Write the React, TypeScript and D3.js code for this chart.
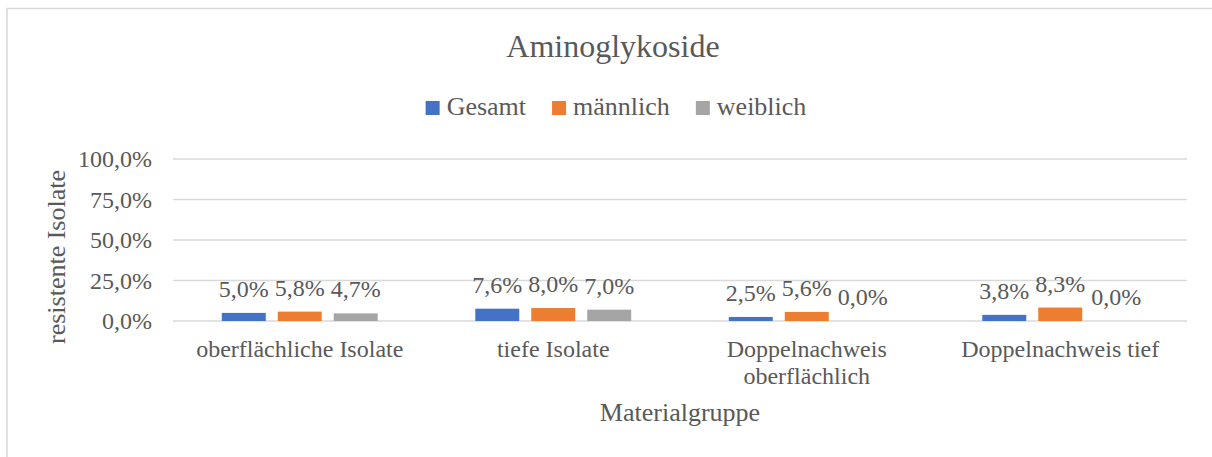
import React, { useEffect, useRef } from 'react';
import * as d3 from 'd3';

const categories = ['oberflächliche Isolate', 'tiefe Isolate', 'Doppelnachweis oberflächlich', 'Doppelnachweis tief'];
const seriesNames = ['Gesamt', 'männlich', 'weiblich'];
const gesamt = [5.0, 7.6, 2.5, 3.8];
const maennlich = [5.8, 8.0, 5.6, 8.3];
const weiblich = [4.7, 7.0, 0.0, 0.0];
const yTicks = [0, 25, 50, 75, 100];
const colors = ['#4472C4', '#ED7D31', '#A5A5A5'];

const fmt = (v: number) => v.toFixed(1).replace('.', ',') + '%';

function drawChart(svgRoot: SVGSVGElement) {
    const svg = d3.select(svgRoot);
    svg.selectChildren().remove();

    const width = 1212;
    const height = 457;
    const plot = { left: 173, right: 1187, top: 159, bottom: 321 };
    const textColor = '#595959';
    const font = '"Liberation Serif", "Times New Roman", serif';

    svg.attr('width', width).attr('height', height).style('font-family', font);

    // chart frame, clipped on right and bottom like the original
    svg.append('rect')
        .attr('x', 7).attr('y', 8.5)
        .attr('width', 1230).attr('height', 480)
        .attr('fill', '#fff')
        .attr('stroke', '#d9d9d9')
        .attr('stroke-width', 1.5);

    const x = d3.scaleBand<string>().domain(categories).range([plot.left, plot.right]);
    const y = d3.scaleLinear().domain([0, 100]).range([plot.bottom, plot.top]);

    const groupW = x.bandwidth() * 0.615;
    const xs = d3.scaleBand<string>().domain(seriesNames).range([-groupW / 2, groupW / 2]).paddingInner(12 / 56);

    // gridlines
    svg.append('g')
        .selectAll('line')
        .data(yTicks)
        .join('line')
        .attr('x1', plot.left).attr('x2', plot.right)
        .attr('y1', (d) => y(d)).attr('y2', (d) => y(d))
        .attr('stroke', '#d9d9d9')
        .attr('stroke-width', 1.5);

    // y tick labels
    svg.append('g')
        .selectAll('text')
        .data(yTicks)
        .join('text')
        .attr('x', 152)
        .attr('y', (d) => y(d))
        .attr('dy', '0.35em')
        .attr('text-anchor', 'end')
        .attr('font-size', 24)
        .attr('fill', textColor)
        .text((d) => fmt(d));

    const series = [gesamt, maennlich, weiblich];
    const bars = series.flatMap((vals, si) => vals.map((v, ci) => ({ v, ci, si })));

    const cx = (d: { ci: number; si: number }) => (x(categories[d.ci]) ?? 0) + x.bandwidth() / 2 + (xs(seriesNames[d.si]) ?? 0);

    svg.append('g')
        .selectAll('rect')
        .data(bars)
        .join('rect')
        .attr('x', (d) => cx(d))
        .attr('y', (d) => y(d.v))
        .attr('width', xs.bandwidth())
        .attr('height', (d) => y(0) - y(d.v))
        .attr('fill', (d) => colors[d.si]);

    // data labels
    svg.append('g')
        .selectAll('text')
        .data(bars)
        .join('text')
        .attr('x', (d) => cx(d) + xs.bandwidth() / 2)
        .attr('y', (d) => y(d.v) - 16)
        .attr('text-anchor', 'middle')
        .attr('font-size', 24)
        .attr('fill', textColor)
        .text((d) => fmt(d.v));

    // category labels, wrapped to the band width
    const catG = svg.append('g');
    categories.forEach((c) => {
        const t = catG.append('text')
            .attr('x', (x(c) ?? 0) + x.bandwidth() / 2)
            .attr('y', 357)
            .attr('text-anchor', 'middle')
            .attr('font-size', 24)
            .attr('fill', textColor);
        const words = c.split(' ');
        let line: string[] = [];
        let lineNo = 0;
        let tspan = t.append('tspan').attr('x', (x(c) ?? 0) + x.bandwidth() / 2).attr('y', 357);
        words.forEach((w) => {
            line.push(w);
            tspan.text(line.join(' '));
            const node = tspan.node();
            if (node && node.getComputedTextLength() > x.bandwidth() - 10 && line.length > 1) {
                line.pop();
                tspan.text(line.join(' '));
                line = [w];
                lineNo++;
                tspan = t.append('tspan')
                    .attr('x', (x(c) ?? 0) + x.bandwidth() / 2)
                    .attr('y', 357 + lineNo * 27)
                    .text(w);
            }
        });
    });

    // axis titles
    svg.append('text')
        .attr('x', (plot.left + plot.right) / 2)
        .attr('y', 421)
        .attr('text-anchor', 'middle')
        .attr('font-size', 26)
        .attr('fill', textColor)
        .text('Materialgruppe');

    svg.append('text')
        .attr('transform', 'translate(65,257) rotate(-90)')
        .attr('text-anchor', 'middle')
        .attr('font-size', 26)
        .attr('fill', textColor)
        .text('resistente Isolate');

    // title
    svg.append('text')
        .attr('x', 613)
        .attr('y', 57)
        .attr('text-anchor', 'middle')
        .attr('font-size', 32)
        .attr('fill', textColor)
        .text('Aminoglykoside');

    // legend
    const legend = svg.append('g');
    const items = seriesNames.map((name, i) => {
        const g = legend.append('g');
        g.append('rect')
            .attr('x', 0).attr('y', 101)
            .attr('width', 14).attr('height', 14)
            .attr('fill', colors[i]);
        const t = g.append('text')
            .attr('x', 21).attr('y', 115)
            .attr('font-size', 26)
            .attr('fill', textColor)
            .text(name);
        const w = 21 + (t.node()?.getComputedTextLength() ?? 0);
        return { g, w };
    });
    const gap = 26;
    const total = d3.sum(items, (d) => d.w) + gap * (items.length - 1);
    let lx = 616 - total / 2;
    items.forEach((it) => {
        it.g.attr('transform', `translate(${lx},0)`);
        lx += it.w + gap;
    });
}

export default function App() {
    const svgRef = useRef<SVGSVGElement>(null);

    useEffect(() => {
        svgRef.current && drawChart(svgRef.current);
    }, []);

    return (
        <svg ref={svgRef} style={{ position: 'absolute', left: 0, top: 0, display: 'block' }}>
        </svg>
    );
}
